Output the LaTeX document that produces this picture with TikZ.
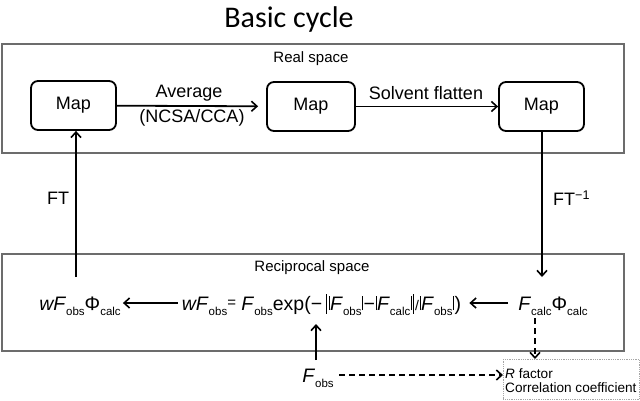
\documentclass[tikz,border=0pt]{standalone}
\usepackage{fontspec}
\setmainfont{Liberation Sans}
\newfontfamily\titlefont{Carlito}
\usetikzlibrary{arrows.meta}
\newcommand\lowsub[1]{\raisebox{-0.5ex}{\fontsize{11.5}{11.5}\selectfont #1}}
\newcommand\inbar{\kern0.6pt\rule{0.9pt}{0.74em}\kern0.6pt}
\newcommand\tallbar{\kern0.8pt\rule[-0.2em]{1.1pt}{1.0em}\kern0.8pt}
\begin{document}
\begin{tikzpicture}[x=1pt,y=-1pt,
  arr/.style={line width=1.8pt,-{Straight Barb[length=5.5pt,width=10pt,line width=1.6pt]}},
  darr/.style={arr,dash pattern=on 6pt off 4pt},
  mapbox/.style={draw,line width=1.8pt,rounded corners=7pt,minimum width=85pt,minimum height=49pt,inner sep=0pt,font=\fontsize{18}{18}\selectfont},
  spacebox/.style={draw=gray!85!black,line width=1.8pt},
  lbl/.style={inner sep=0pt,font=\fontsize{18}{18}\selectfont},
  small/.style={inner sep=0pt,font=\fontsize{15}{15}\selectfont},
  eq/.style={inner sep=0pt,anchor=base,font=\fontsize{19.5}{19.5}\selectfont}]
\useasboundingbox (0,0) rectangle (640,400);
\node[inner sep=0pt,font=\titlefont\fontsize{30}{30}\selectfont] (title) at (289,19) {Basic cycle};
% boxes
\draw[spacebox] (2,44) rectangle (624,153);
\draw[spacebox] (2,254) rectangle (624,351);
\node[small] (reallbl) at (311,59) {Real space};
\node[small] (reclbl) at (312,268) {Reciprocal space};
% maps
\node[mapbox] (map1) at (73.5,105.5) {Map};
\node[mapbox,minimum width=88pt] (map2) at (311,106.5) {Map};
\node[mapbox] (map3) at (541.5,106.5) {Map};
\draw[arr,shorten >=8pt] (map1) -- (map2);
\draw[arr] (map2) -- (map3);
\node[lbl] (avg) at (189,93) {Average};
\node[lbl] (ncsa) at (192,118) {(NCSA/CCA)};
\node[lbl] (solv) at (426,93) {Solvent flatten};
% reciprocal row
\node[eq] (wf) at (80,310) {\textit{wF}\lowsub{obs}Φ\lowsub{calc}};
\node[eq] (formula) at (321.5,310) {\textit{wF}\lowsub{obs}\raisebox{0.2ex}{\fontsize{15}{15}\selectfont=} \textit{F}\lowsub{obs}exp(−\,\tallbar\inbar\textit{F}\lowsub{obs}\inbar−\inbar\textit{F}\lowsub{calc}\inbar\tallbar{\fontsize{14}{14}\selectfont/}\inbar\textit{F}\lowsub{obs}\inbar)};
\node[eq] (fcalc) at (553,310) {\textit{F}\lowsub{calc}Φ\lowsub{calc}};
\draw[arr,shorten <=4pt,shorten >=2pt] (formula.west |- 0,303) -- (wf.east |- 0,303);
\draw[arr,shorten <=10pt,shorten >=8pt] (fcalc.west |- 0,303) -- (formula.east |- 0,303);
% FT arrows
\coordinate (ftbot) at (76,277);
\draw[arr] (ftbot) -- (ftbot |- map1.south);
\node[lbl] (ft) at (58,198) {FT};
\coordinate (fttop) at (542,277);
\draw[arr] (fttop |- map3.south) -- (fttop);
\node[lbl,anchor=west] (ftinv) at (553,198) {FT\textsuperscript{−1}};
% F_obs
\node[eq] (fobs) at (318,382) {\textit{F}\lowsub{obs}};
\coordinate (fobsup) at (316,360);
\draw[arr] (fobsup) -- (316,324);
% R factor box
\node[draw=gray!70,densely dotted,line width=0.8pt,minimum width=136pt,minimum height=40pt,anchor=north west,inner sep=0pt] (rbox) at (503,359) {};
\node[anchor=west,inner sep=0pt,font=\fontsize{13.6}{13.6}\selectfont,align=left] (rtext) at (505,380.5) {\textit{R} factor\\[1pt]Correlation coefficient};
\draw[darr] (339,375) -- (rbox.west |- 0,375);
\draw[darr] (535,318) -- (535 ,359);
\end{tikzpicture}
\end{document}
